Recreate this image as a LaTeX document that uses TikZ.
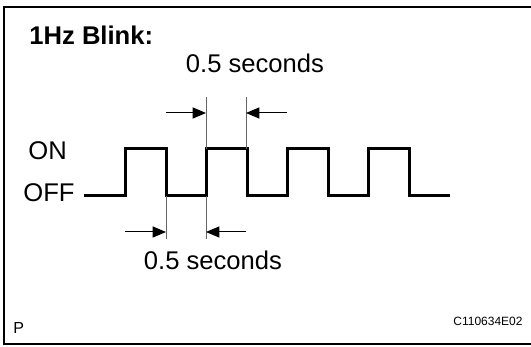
\documentclass[tikz,border=0pt]{standalone}
\usepackage{fontspec}
\setmainfont{Liberation Sans}
\usetikzlibrary{arrows,positioning,calc}

\begin{document}
\begin{tikzpicture}[x=0.5pt,y=-0.5pt,>=triangle 45,
	label text/.style={inner sep=0pt,font=\fontsize{12.8}{14}\selectfont},
	wave line/.style={line width=1.5pt,line join=miter},
	ext line/.style={line width=0.35pt,black!60},
	dim arrow/.style={->,line width=0.5pt,shorten >=0pt}]

	\useasboundingbox (0,0) rectangle (531,347);
	\draw[line width=1pt] (535,7) -- (4,7) -- (4,344) -- (535,344);

	\node[label text,anchor=base west,font=\bfseries\fontsize{12.8}{14}\selectfont] (title) at (29,45) {1Hz Blink:};
	\node[label text,anchor=base west] (on) at (28,160) {ON};
	\node[label text,anchor=base west] (off) at (23,202) {OFF};

	% square wave
	\coordinate (w0) at (84,196);
	\foreach \i in {0,...,3} {
		\coordinate (r\i) at (125+81*\i,196);
		\coordinate (f\i) at (166+81*\i,149);
	}
	\coordinate (wend) at (450,196);
	\draw[wave line] (w0) -- (r0) |- (f0) |- (r1) |- (f1) |- (r2) |- (f2) |- (r3) |- (f3) |- (wend);

	% upper dimension
	\coordinate (ua) at (206,97);
	\coordinate (ub) at (246,97);
	\draw[ext line] (ua) -- (206,149);
	\draw[ext line] (ub) -- (246,149);
	\coordinate (ual) at (166,113);
	\coordinate (ubr) at (287,113);
	\draw[dim arrow] (ual) -- (206,113);
	\draw[dim arrow] (ubr) -- (246,113);
	\node[label text,anchor=base] (topdim) at (255,73) {0.5 seconds};

	% lower dimension
	\coordinate (la) at (166,239);
	\coordinate (lb) at (206,239);
	\draw[ext line] (166,196) -- (la);
	\draw[ext line] (206,196) -- (lb);
	\coordinate (lal) at (125,232);
	\coordinate (lbr) at (246,232);
	\draw[dim arrow] (lal) -- (166,232);
	\draw[dim arrow] (lbr) -- (206,232);
	\node[label text,anchor=base] (botdim) at (213,270) {0.5 seconds};

	\node[inner sep=0pt,anchor=base west,font=\fontsize{8}{9}\selectfont] (pmark) at (13,334) {P};
	\node[inner sep=0pt,anchor=base east,font=\fontsize{6}{7}\selectfont] (figno) at (523,326) {C110634E02};

\end{tikzpicture}
\end{document}
